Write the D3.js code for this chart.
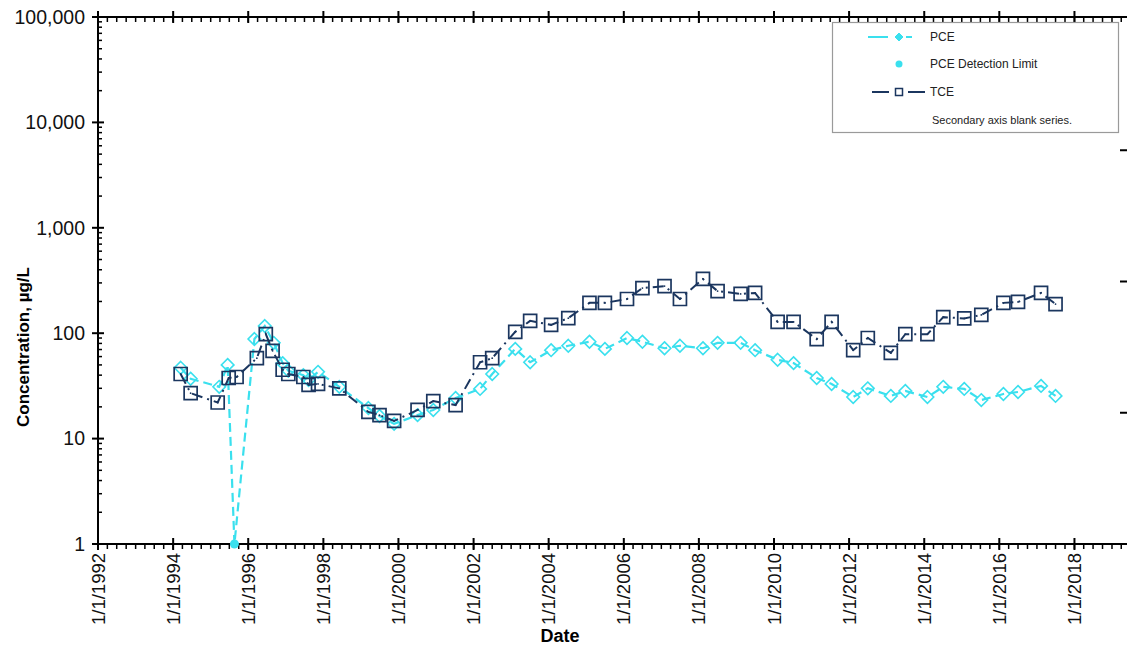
<!DOCTYPE html>
<html><head><meta charset="utf-8">
<script src="https://cdn.jsdelivr.net/npm/d3@7"></script>
<style>
html,body{margin:0;padding:0;background:#fff;}
svg{display:block;font-family:"Liberation Sans",Arial,sans-serif;}
</style></head>
<body>
<svg id="chart" width="1127" height="649"></svg>
<script>
// ---- data ----
const pceDates = ["1994-03-15","1994-06-20","1995-03-25","1995-06-15","1995-08-20","1996-03-01","1996-06-10","1996-09-05","1996-12-01","1997-01-25","1997-06-20","1997-08-10","1997-11-10","1998-06-05","1999-03-15","1999-07-01","1999-11-20","2000-07-05","2000-12-05","2001-07-10","2002-03-05","2002-07-01","2003-02-10","2003-07-05","2004-01-25","2004-07-10","2005-02-01","2005-07-01","2006-02-01","2006-07-01","2007-02-01","2007-07-01","2008-02-10","2008-07-01","2009-02-10","2009-07-01","2010-02-05","2010-07-10","2011-02-20","2011-07-15","2012-02-10","2012-07-01","2013-02-10","2013-07-01","2014-02-01","2014-07-05","2015-01-25","2015-07-10","2016-02-10","2016-07-01","2017-02-10","2017-07-01"];
const pceValues = [47,37,31,50,1,88,117,81,52,44,40,36,43,31,19.5,16.4,13.8,16.7,18.7,24.3,29.6,41,71,53,69,76,83,71,90,83,72,76,72,81,81,69,56,52,37.6,33,24.8,30,25.4,28.3,24.8,31,29.6,23.2,26.5,27.7,31.6,25.4];
const detectDates = ["1995-08-20"];
const detectValues = [1];
const tceDates = ["1994-03-15","1994-06-20","1995-03-10","1995-06-25","1995-09-10","1996-03-25","1996-06-20","1996-08-25","1996-12-01","1997-01-25","1997-06-20","1997-08-10","1997-11-10","1998-06-05","1999-03-15","1999-07-01","1999-11-20","2000-07-05","2000-12-05","2001-07-10","2002-03-05","2002-07-01","2003-02-10","2003-07-05","2004-01-25","2004-07-10","2005-02-01","2005-07-01","2006-02-01","2006-07-01","2007-02-01","2007-07-01","2008-02-10","2008-07-01","2009-02-10","2009-07-01","2010-02-05","2010-07-10","2011-02-20","2011-07-15","2012-02-10","2012-07-01","2013-02-10","2013-07-01","2014-02-01","2014-07-05","2015-01-25","2015-07-10","2016-02-10","2016-07-01","2017-02-10","2017-07-01"];
const tceValues = [41,27,22,37.6,38.4,58,98,68,45,41,38.4,32.3,33,30,17.9,16.7,14.7,18.7,22.7,20.8,53,58,103,131,120,139,194,194,211,268,280,211,327,251,236,241,128,128,88,128,69,90,65,98,98,142,138,149,194,198,241,189];
const yTickValues = [1,10,100,1000,10000,100000];
const xTickYears = [1992,1994,1996,1998,2000,2002,2004,2006,2008,2010,2012,2014,2016,2018];
const secondaryTicks = [1,2,3];
const legendLabels = ["PCE","PCE Detection Limit","TCE","Secondary axis blank series."];

// ---- setup ----
const svg = d3.select("#chart");
const parse = d3.timeParse("%Y-%m-%d");
const L = 98, R = 1127, T = 17, B = 544;
const x = d3.scaleTime().domain([new Date(1992,0,1), new Date(2019,4,27)]).range([L, R]);
const y = d3.scaleLog().domain([1,100000]).range([B, T]);
const y2 = d3.scaleLinear().domain([0,4]).range([B, T+2]);
const cPCE = "#3ae0ee", cTCE = "#1b365f";
const fmt = d3.timeFormat("%-m/%-d/%Y");
const fmtY = d3.format(",");

const pce = pceDates.map((d,i)=>({d:parse(d), v:pceValues[i]}));
const det = detectDates.map((d,i)=>({d:parse(d), v:detectValues[i]}));
const tce = tceDates.map((d,i)=>({d:parse(d), v:tceValues[i]}));

// minor x ticks quarterly
const minorX = d3.timeMonth.every(3).range(new Date(1992,0,1), new Date(2019,5,1));
const majorX = xTickYears.map(yr=>new Date(yr,0,1));
const minorY = [];
for (let e=0;e<5;e++) for (let k=2;k<10;k++) minorY.push(k*Math.pow(10,e));

const axes = svg.append("g").attr("stroke","#000");
// bottom axis
axes.append("line").attr("x1",L).attr("x2",R).attr("y1",B).attr("y2",B).attr("stroke-width",2);
axes.selectAll(".mxb").data(minorX).join("line").attr("x1",d=>x(d)).attr("x2",d=>x(d)).attr("y1",B).attr("y2",B+5).attr("stroke-width",1.5);
axes.selectAll(".Mxb").data(majorX).join("line").attr("x1",d=>x(d)).attr("x2",d=>x(d)).attr("y1",B-6).attr("y2",B+6).attr("stroke-width",2);
// top axis
axes.append("line").attr("x1",L).attr("x2",R).attr("y1",T).attr("y2",T).attr("stroke-width",2);
axes.selectAll(".mxt").data(minorX).join("line").attr("x1",d=>x(d)).attr("x2",d=>x(d)).attr("y1",T).attr("y2",T+5).attr("stroke-width",1.5);
axes.selectAll(".Mxt").data(majorX).join("line").attr("x1",d=>x(d)).attr("x2",d=>x(d)).attr("y1",T-6).attr("y2",T+6).attr("stroke-width",2);
// left axis
axes.append("line").attr("x1",L).attr("x2",L).attr("y1",T).attr("y2",B).attr("stroke-width",2);
axes.selectAll(".my").data(minorY).join("line").attr("x1",L).attr("x2",L+4).attr("y1",d=>y(d)).attr("y2",d=>y(d)).attr("stroke-width",1.5);
axes.selectAll(".My").data(yTickValues).join("line").attr("x1",L-6).attr("x2",L+6).attr("y1",d=>y(d)).attr("y2",d=>y(d)).attr("stroke-width",2);
// secondary axis ticks (no line, no labels)
axes.selectAll(".s2").data(secondaryTicks).join("line").attr("x1",R-7).attr("x2",R).attr("y1",d=>y2(d)).attr("y2",d=>y2(d)).attr("stroke-width",2);

// y tick labels
svg.append("g").selectAll("text").data(yTickValues).join("text")
  .attr("x",L-13).attr("y",d=>y(d)).attr("dy","0.35em").attr("text-anchor","end")
  .attr("font-size",19.5).attr("fill","#111").text(d=>fmtY(d));
// x tick labels
svg.append("g").selectAll("text").data(majorX).join("text")
  .attr("transform",d=>`translate(${x(d)+6.5},${B+9}) rotate(-90)`)
  .attr("text-anchor","end").attr("font-size",18.5).attr("fill","#111").text(d=>fmt(d));
// axis titles
svg.append("text").attr("x",560).attr("y",642).attr("text-anchor","middle").attr("font-weight","bold").attr("font-size",18).text("Date");
svg.append("text").attr("transform","translate(29,347) rotate(-90)").attr("text-anchor","middle").attr("font-weight","bold").attr("font-size",17).text("Concentration, µg/L");

// diamond / square paths
const diamond = (cx,cy,r)=>`M${cx},${cy-r}L${cx+r},${cy}L${cx},${cy+r}L${cx-r},${cy}Z`;
const square = (cx,cy,r)=>`M${cx-r},${cy-r}h${2*r}v${2*r}h${-2*r}Z`;

const line = d3.line().x(d=>x(d.d)).y(d=>y(d.v));
// PCE
svg.append("path").datum(pce).attr("d",line).attr("fill","none").attr("stroke",cPCE).attr("stroke-width",2.2).attr("stroke-dasharray","9,5");
svg.append("g").selectAll("path").data(pce.filter(d=>d.v>1)).join("path")
  .attr("d",d=>diamond(x(d.d),y(d.v),6.3)).attr("fill","none").attr("stroke",cPCE).attr("stroke-width",1.6);
// detection limit
svg.append("g").selectAll("circle").data(det).join("circle")
  .attr("cx",d=>x(d.d)).attr("cy",d=>y(d.v)).attr("r",4.5).attr("fill",cPCE);
// TCE
svg.append("path").datum(tce).attr("d",line).attr("fill","none").attr("stroke",cTCE).attr("stroke-width",2).attr("stroke-dasharray","11,5,2,5");
const tg = svg.append("g").selectAll("g").data(tce).join("g");
tg.append("path").attr("d",d=>square(x(d.d),y(d.v),6.5)).attr("fill","none").attr("stroke",cTCE).attr("stroke-width",1.7);
tg.append("circle").attr("cx",d=>x(d.d)).attr("cy",d=>y(d.v)).attr("r",0.9).attr("fill",cTCE);

// legend
const lg = svg.append("g");
lg.append("rect").attr("x",832.5).attr("y",22.5).attr("width",286).attr("height",110).attr("fill","#fff").attr("stroke","#9a9a9a").attr("stroke-width",1.2);
const rows = [37,64,92,120];
lg.append("line").attr("x1",868).attr("x2",927).attr("y1",rows[0]).attr("y2",rows[0]).attr("stroke",cPCE).attr("stroke-width",2.2).attr("stroke-dasharray","20,9,6,3,6");
lg.append("path").attr("d",diamond(899,rows[0],4)).attr("fill",cPCE).attr("stroke",cPCE).attr("stroke-width",1);
lg.append("circle").attr("cx",899).attr("cy",rows[1]).attr("r",3.5).attr("fill",cPCE);
lg.append("line").attr("x1",872).attr("x2",925).attr("y1",rows[2]).attr("y2",rows[2]).attr("stroke",cTCE).attr("stroke-width",2).attr("stroke-dasharray","17,19,17");
lg.append("path").attr("d",square(899,rows[2],3.5)).attr("fill","#fff").attr("stroke",cTCE).attr("stroke-width",1.5);
lg.selectAll("text").data(legendLabels).join("text")
  .attr("x",(d,i)=>i===3?932:930).attr("y",(d,i)=>rows[i]).attr("dy","0.35em")
  .attr("font-size",(d,i)=>i===3?11:12).attr("fill","#222").text(d=>d);
</script>
</body></html>
